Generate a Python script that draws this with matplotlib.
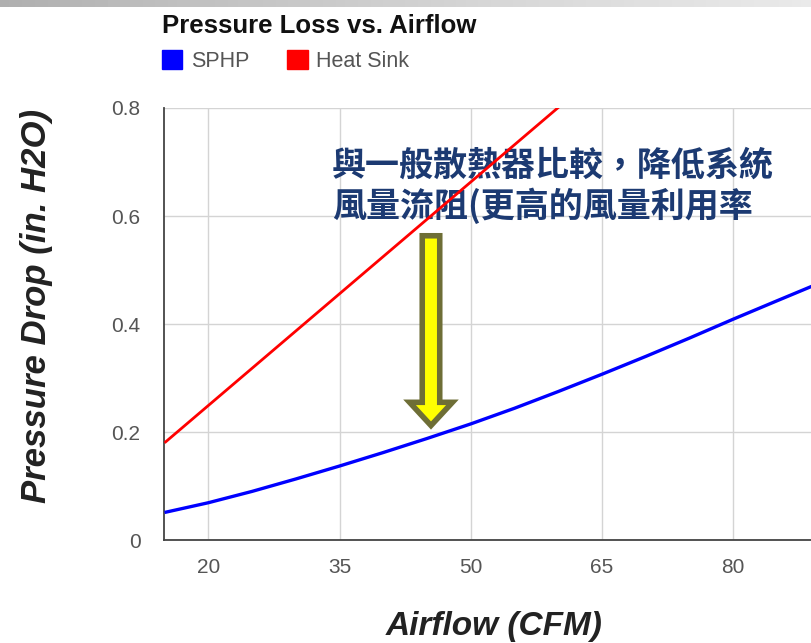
import numpy as np
import matplotlib
matplotlib.use("Agg")
import matplotlib.pyplot as plt
from matplotlib.patches import Patch, FancyArrow

# ---- data ----
sphp_x = [15, 20, 25, 30, 35, 40, 45, 50, 55, 60, 65, 70, 75, 80, 85, 89]
sphp_y = [0.051, 0.069, 0.090, 0.113, 0.137, 0.162, 0.188, 0.215, 0.244, 0.275,
          0.307, 0.340, 0.374, 0.409, 0.443, 0.470]
hs_x = [15, 20, 30, 40, 50, 60, 62]
hs_y = [0.18, 0.249, 0.387, 0.525, 0.663, 0.801, 0.829]
x_ticks = [20, 35, 50, 65, 80]
y_ticks = [0, 0.2, 0.4, 0.6, 0.8]
y_tick_labels = ["0", "0.2", "0.4", "0.6", "0.8"]
title = "Pressure Loss vs. Airflow"
series_names = ["SPHP", "Heat Sink"]
series_colors = ["#0000ff", "#ff0000"]
note_lines = ["與一般散熱器比較，降低系統", "風量流阻(更高的風量利用率"]

plt.rcParams['font.family'] = ['Liberation Sans', 'DejaVu Sans']

W, H = 811, 643
fig = plt.figure(figsize=(W / 100, H / 100), dpi=100)
fig.patch.set_facecolor("white")

# top gray band (slide background remnant)
band = fig.add_axes([0, 1 - 7 / H, 1, 7 / H])
grad = np.linspace(0, 1, 256)[None, :]
band.imshow(grad, aspect="auto", cmap="Greys_r", vmin=-2.2, vmax=1.6, extent=[0, 1, 0, 1])
band.axis("off")

# main axes
x0, x1 = 163.5, 811.0
y0, y1 = 540.0, 108.0
ax = fig.add_axes([x0 / W, 1 - y0 / H, (x1 - x0) / W, (y0 - y1) / H])
ax.set_xlim(14.88, 88.88)
ax.set_ylim(0, 0.8)

ax.plot(sphp_x, sphp_y, color=series_colors[0], lw=2.4, zorder=3, solid_capstyle="butt")
ax.plot(hs_x, hs_y, color=series_colors[1], lw=2.0, zorder=3, solid_capstyle="butt")

ax.set_xticks(x_ticks)
ax.set_yticks(y_ticks)
ax.set_yticklabels(y_tick_labels)
ax.grid(True, color="#d4d4d4", lw=1.0)
ax.set_axisbelow(True)
for s in ["top", "right"]:
    ax.spines[s].set_visible(False)
for s in ["left", "bottom"]:
    ax.spines[s].set_color("#444444")
    ax.spines[s].set_linewidth(1.3)
ax.tick_params(axis="both", length=0, labelsize=15, labelcolor="#555555")
ax.tick_params(axis="x", pad=13)
ax.tick_params(axis="y", pad=16.5)

# annotation text (below lines)
ax.text(34.14, 0.674, note_lines[0], fontsize=24.5, fontweight="bold", color="#1c3a72",
        family=["Noto Sans CJK TC", "DejaVu Sans"], ha="left", va="baseline", zorder=2)
ax.text(34.14, 0.598, note_lines[1], fontsize=24.5, fontweight="bold", color="#1c3a72",
        family=["Noto Sans CJK TC", "DejaVu Sans"], ha="left", va="baseline", zorder=2)

# yellow arrow
top_y, tip_y = 0.5634, 0.212
arr = FancyArrow(45.45, top_y, 0, -(top_y - tip_y), width=2.0, head_width=4.9,
                 head_length=0.043, length_includes_head=True,
                 facecolor="#ffff00", edgecolor="#6e6e36", lw=4.0, zorder=5,
                 joinstyle="miter")
ax.add_patch(arr)

# title
fig.text(162 / W, 1 - 33 / H, title, fontsize=18.5, fontweight="bold", color="#111111",
         ha="left", va="baseline")

# legend
handles = [Patch(facecolor=c, edgecolor=c) for c in series_colors]
fig.legend(handles, series_names, loc="center left", bbox_to_anchor=(162 / W, 1 - 61 / H),
           ncol=2, frameon=False, fontsize=15.5, handlelength=0.95, handleheight=0.95,
           handletextpad=0.4, columnspacing=1.75, borderpad=0, borderaxespad=0,
           labelcolor="#555555")

# axis labels
fig.text(37 / W, 1 - 306 / H, "Pressure Drop (in. H2O)", rotation=90, fontsize=25,
         fontweight="bold", fontstyle="italic", color="#222222", ha="center", va="center")
fig.text(494 / W, 1 - 626 / H, "Airflow (CFM)", fontsize=24, fontweight="bold",
         fontstyle="italic", color="#222222", ha="center", va="center")

fig.savefig("out.png", dpi=100, facecolor="white")
